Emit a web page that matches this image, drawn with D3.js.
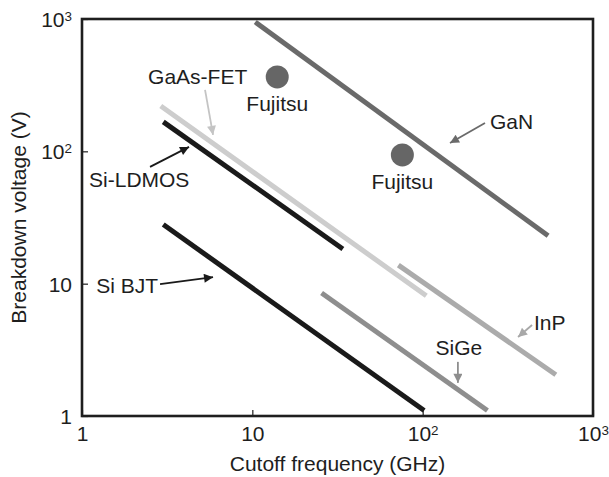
<!DOCTYPE html>
<html>
<head>
<meta charset="utf-8">
<script src="https://cdn.jsdelivr.net/npm/d3@7"></script>
<style>
  html, body { margin: 0; padding: 0; background: #fff; }
  svg { display: block; }
  text { font-family: "Liberation Sans", Arial, Helvetica, sans-serif; fill: #1e1e1e; }
</style>
</head>
<body>
<svg id="chart" width="609" height="477"></svg>
<script>
// Technology lines: each drawn from (startFreq, startVolt) to (endFreq, endVolt)
const devices   = ["Si-LDMOS", "GaAs-FET", "Si BJT", "SiGe", "InP", "GaN"];
const startFreq = [3.0, 2.9, 3.0, 25.5, 72, 10.4];    // GHz
const startVolt = [167, 220, 28, 8.5, 13.8, 950];     // V
const endFreq   = [34, 105, 102, 240, 605, 545];      // GHz
const endVolt   = [18.3, 8.1, 1.1, 1.1, 2.05, 23];    // V
const lineColors = ["#1a1a1a", "#cdcdcd", "#1a1a1a", "#8e8e8e", "#ababab", "#6a6a6a"];

// Individual Fujitsu devices
const pointLabels = ["Fujitsu", "Fujitsu"];
const pointFreq   = [14, 76];
const pointVolt   = [365, 94];

// Axis ticks
const freqTicks = [1, 10, 100, 1000];
const voltTicks = [1, 10, 100, 1000];
const tickLabels = { 1: ["1", null], 10: ["10", null], 100: ["10", "2"], 1000: ["10", "3"] };

// Callouts: arrow tip in data space, arrow tail and label offset in px
const callouts = [
  { text: "GaAs-FET", tip: [5.88, 133], tail: [-8, -45], label: [-65, -51], anchor: "start", color: "#c4c4c4" },
  { text: "Si-LDMOS", tip: [4.25, 108], tail: [-39, 20], label: [-100, 40], anchor: "start", color: "#1a1a1a" },
  { text: "Si BJT",   tip: [5.88, 11.2], tail: [-53, 7], label: [-55, 16], anchor: "end", color: "#1a1a1a" },
  { text: "GaN",      tip: [144.7, 115.6], tail: [35, -20], label: [40, -14], anchor: "start", color: "#6a6a6a" },
  { text: "InP",      tip: [363, 3.95], tail: [14, -12], label: [16, -7], anchor: "start", color: "#a8a8a8" },
  { text: "SiGe",     tip: [161, 1.78], tail: [0, -21], label: [1, -28], anchor: "middle", color: "#8e8e8e" }
];

const margin = { left: 82, right: 16, top: 19, bottom: 61 };
const W = 609, H = 477;
const svg = d3.select("#chart");

const x = d3.scaleLog().domain([1, 1000]).range([margin.left, W - margin.right]);
const y = d3.scaleLog().domain([1, 1000]).range([H - margin.bottom, margin.top]);

const fontSize = 21;

function superLabel(sel, v) {
  const [base, sup] = tickLabels[v];
  sel.text(null);
  sel.append("tspan").text(base);
  if (sup) sel.append("tspan").attr("dy", "-0.45em").attr("font-size", "0.64em").text(sup);
}

// X axis with inward ticks
const gx = svg.append("g").attr("transform", `translate(0,${y(1)})`)
  .call(d3.axisBottom(x).tickValues(freqTicks).tickSize(-6).tickFormat(() => ""));
gx.select(".domain").remove();
gx.selectAll(".tick line").attr("stroke", "#1e1e1e").attr("stroke-width", 1.2);
gx.selectAll(".tick text").remove();
gx.selectAll(".tick").append("text")
  .attr("y", 25).attr("text-anchor", "middle").attr("font-size", fontSize)
  .attr("fill", "#1e1e1e")
  .each(function(d) { superLabel(d3.select(this), d); });

// Y axis with inward ticks
const gy = svg.append("g").attr("transform", `translate(${x(1)},0)`)
  .call(d3.axisLeft(y).tickValues(voltTicks).tickSize(-6).tickFormat(() => ""));
gy.select(".domain").remove();
gy.selectAll(".tick line").attr("stroke", "#1e1e1e").attr("stroke-width", 1.2);
gy.selectAll(".tick text").remove();
gy.selectAll(".tick").append("text")
  .attr("x", -10).attr("y", 7.5).attr("text-anchor", "end").attr("font-size", fontSize)
  .attr("fill", "#1e1e1e")
  .each(function(d) { superLabel(d3.select(this), d); });

// Plot frame
svg.append("rect")
  .attr("x", x(1)).attr("y", y(1000))
  .attr("width", x(1000) - x(1)).attr("height", y(1) - y(1000))
  .attr("fill", "none").attr("stroke", "#1e1e1e").attr("stroke-width", 2.6);

// Axis titles
svg.append("text")
  .attr("x", (x(1) + x(1000)) / 2).attr("y", 471)
  .attr("text-anchor", "middle").attr("font-size", fontSize)
  .text("Cutoff frequency (GHz)");
svg.append("text")
  .attr("transform", `translate(26,${(y(1) + y(1000)) / 2}) rotate(-90)`)
  .attr("text-anchor", "middle").attr("font-size", fontSize)
  .text("Breakdown voltage (V)");

// Technology lines
svg.append("g").selectAll("line").data(devices).join("line")
  .attr("x1", (d, i) => x(startFreq[i])).attr("y1", (d, i) => y(startVolt[i]))
  .attr("x2", (d, i) => x(endFreq[i])).attr("y2", (d, i) => y(endVolt[i]))
  .attr("stroke", (d, i) => lineColors[i])
  .attr("stroke-width", 5);

// Fujitsu points and labels
const pts = svg.append("g").selectAll("g").data(pointLabels).join("g")
  .attr("transform", (d, i) => `translate(${x(pointFreq[i])},${y(pointVolt[i])})`);
pts.append("circle").attr("r", 11.5).attr("fill", "#666");
pts.append("text").attr("y", 34).attr("text-anchor", "middle").attr("font-size", fontSize).text(d => d);

// Arrowhead markers, one per colour
const defs = svg.append("defs");
callouts.forEach((c, i) => {
  defs.append("marker")
    .attr("id", "arrow" + i)
    .attr("viewBox", "0 0 10 10").attr("refX", 10).attr("refY", 5)
    .attr("markerUnits", "userSpaceOnUse")
    .attr("markerWidth", 11).attr("markerHeight", 9)
    .attr("orient", "auto")
    .append("path").attr("d", "M0,0 L10,5 L0,10 z").attr("fill", c.color);
});

// Callout arrows and labels
const cg = svg.append("g").selectAll("g").data(callouts).join("g")
  .attr("transform", d => `translate(${x(d.tip[0])},${y(d.tip[1])})`);
cg.append("line")
  .attr("x1", d => d.tail[0]).attr("y1", d => d.tail[1])
  .attr("x2", 0).attr("y2", 0)
  .attr("stroke", d => d.color).attr("stroke-width", 1.8)
  .attr("marker-end", (d, i) => `url(#arrow${i})`);
cg.append("text")
  .attr("x", d => d.label[0]).attr("y", d => d.label[1])
  .attr("text-anchor", d => d.anchor).attr("font-size", fontSize)
  .text(d => d.text);
</script>
</body>
</html>
